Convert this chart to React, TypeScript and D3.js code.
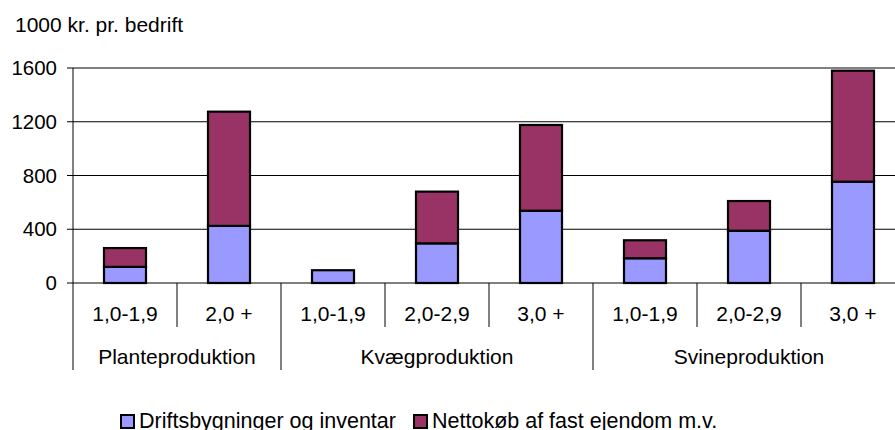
import React from "react";
import * as d3 from "d3";

const categories = ["1,0-1,9", "2,0 +", "1,0-1,9", "2,0-2,9", "3,0 +", "1,0-1,9", "2,0-2,9", "3,0 +"];
const groupNames = ["Planteproduktion", "Kvægproduktion", "Svineproduktion"];
const groupSizes = [2, 3, 3];
const driftsbygninger = [120, 425, 95, 295, 538, 184, 389, 754];
const nettokoeb = [140, 850, 0, 385, 638, 134, 221, 826];
const seriesNames = ["Driftsbygninger og inventar", "Nettokøb af fast ejendom m.v."];
const yTicks = [0, 400, 800, 1200, 1600];
const yTitle = "1000 kr. pr. bedrift";

const COLORS = ["#9999FF", "#993366"];
const FONT = "'Liberation Sans', Arial, sans-serif";

export default function App() {
  const W = 895, H = 430;
  const left = 73, right = 905, top = 68, bottom = 283;
  const idx = categories.map((_, i) => i);
  const x = d3.scaleBand<number>().domain(idx).range([left, right]).padding(0);
  const y = d3.scaleLinear().domain([0, 1600]).range([bottom, top]);
  const barW = 42;
  const catRowBottom = 327;
  const groupRowBottom = 370;

  const stackData = idx.map((i) => ({ i, a: driftsbygninger[i], b: nettokoeb[i] }));
  const stack = d3.stack<any>().keys(["a", "b"])(stackData);

  // group boundaries
  const groupStarts: number[] = [];
  let acc = 0;
  groupSizes.forEach((s) => { groupStarts.push(acc); acc += s; });

  return (
    <svg width={W} height={H} style={{ position: "absolute", left: 0, top: 0, fontFamily: FONT }}>
      <rect x={0} y={0} width={W} height={H} fill="#fff" />
      <text x={15} y={32} fontSize={21} fill="#000">{yTitle}</text>
      {yTicks.map((t) => (
        <g key={t}>
          <line x1={left - 6} x2={right} y1={y(t)} y2={y(t)} stroke="#000" strokeWidth={1} />
          <text x={57} y={y(t)} dy="0.35em" textAnchor="end" fontSize={20.5} fill="#000">{t}</text>
        </g>
      ))}
      {/* left axis */}
      <line x1={left} x2={left} y1={top} y2={groupRowBottom} stroke="#000" strokeWidth={1} />
      {/* category ticks */}
      {idx.slice(1).map((i) => {
        const isGroup = groupStarts.includes(i);
        const xx = x(i)!;
        return <line key={i} x1={xx} x2={xx} y1={bottom} y2={isGroup ? groupRowBottom : catRowBottom} stroke="#000" strokeWidth={1} />;
      })}
      <line x1={right} x2={right} y1={bottom} y2={groupRowBottom} stroke="#000" strokeWidth={1} />
      {/* bars */}
      {stack.map((s, si) => (
        <g key={si}>
          {s.map((d: any, i: number) => {
            const h = y(d[0]) - y(d[1]);
            if (h <= 0) return null;
            const bx = x(i)! + (x.bandwidth() - barW) / 2;
            return (
              <rect key={i} x={bx} y={y(d[1])} width={barW} height={h}
                fill={COLORS[si]} stroke="#000" strokeWidth={2.2} />
            );
          })}
        </g>
      ))}
      {/* category labels */}
      {categories.map((c, i) => (
        <text key={i} x={x(i)! + x.bandwidth() / 2} y={321} textAnchor="middle" fontSize={21} fill="#000">{c}</text>
      ))}
      {/* group labels */}
      {groupNames.map((g, gi) => {
        const s = groupStarts[gi];
        const e = s + groupSizes[gi] - 1;
        const cx = (x(s)! + x(e)! + x.bandwidth()) / 2;
        return <text key={g} x={cx} y={364} textAnchor="middle" fontSize={21} fill="#000">{g}</text>;
      })}
      {/* legend */}
      {seriesNames.map((n, i) => {
        const bx = i === 0 ? 121 : 414;
        return (
          <g key={n}>
            <rect x={bx} y={415} width={13} height={13} fill={COLORS[i]} stroke="#000" strokeWidth={2} />
            <text x={bx + 18} y={428} fontSize={21.5} fill="#000">{n}</text>
          </g>
        );
      })}
    </svg>
  );
}
